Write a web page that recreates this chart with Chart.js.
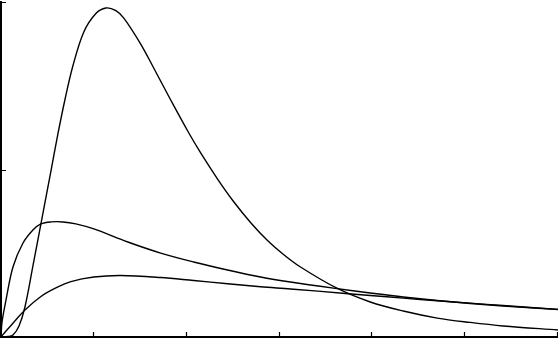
<!DOCTYPE html>
<html>
<head>
<meta charset="utf-8">
<title>Curves</title>
<script src="https://cdn.jsdelivr.net/npm/chart.js@4/dist/chart.umd.min.js"></script>
<style>
  html, body { margin: 0; padding: 0; background: #fff; }
  #wrap { width: 558px; height: 339px; }
</style>
</head>
<body>
<div id="wrap"><canvas id="curveChart" width="558" height="339"></canvas></div>
<script>
// ==========================
// Data
// ==========================
const xTicks = [0, 1, 2, 3, 4, 5, 6];
const yTicks = [0, 1, 2];

// tall curve
const tallX = [0, 0.075, 0.129, 0.194, 0.258, 0.344, 0.43, 0.538, 0.613, 0.688, 0.774, 0.892, 1.022, 1.129, 1.237, 1.323, 1.505, 1.645, 1.828, 2.011, 2.151, 2.333, 2.505, 2.688, 2.871, 3.043, 3.226, 3.613, 3.978, 4.333, 4.699, 5.054, 5.409, 6];
const tallY = [0, 0.003, 0.012, 0.066, 0.179, 0.424, 0.675, 0.991, 1.212, 1.415, 1.618, 1.821, 1.931, 1.964, 1.949, 1.904, 1.749, 1.606, 1.415, 1.23, 1.099, 0.943, 0.809, 0.684, 0.576, 0.493, 0.418, 0.293, 0.209, 0.155, 0.113, 0.087, 0.066, 0.042];

// middle curve
const midX = [0, 0.011, 0.054, 0.129, 0.237, 0.344, 0.43, 0.538, 0.667, 0.806, 1.0, 1.366, 1.72, 2.075, 2.441, 2.796, 3.118, 3.602, 3.978, 4.333, 4.699, 5.054, 5.409, 6];
const midY = [0, 0.09, 0.221, 0.418, 0.561, 0.639, 0.675, 0.687, 0.687, 0.675, 0.645, 0.567, 0.501, 0.448, 0.4, 0.358, 0.328, 0.29, 0.263, 0.239, 0.218, 0.2, 0.185, 0.164];

// low curve
const lowX = [0, 0.054, 0.108, 0.258, 0.43, 0.591, 0.753, 1.0, 1.29, 1.72, 2.075, 2.441, 2.796, 3.118, 3.71, 3.978, 4.333, 4.699, 5.054, 5.409, 6];
const lowY = [0, 0.036, 0.069, 0.161, 0.242, 0.293, 0.331, 0.358, 0.367, 0.355, 0.337, 0.318, 0.3, 0.287, 0.26, 0.248, 0.232, 0.216, 0.202, 0.188, 0.165];

function toPoints(xs, ys) {
  return xs.map((x, i) => ({ x: x, y: ys[i] }));
}

function curve(xs, ys) {
  return {
    data: toPoints(xs, ys),
    borderColor: "#000",
    borderWidth: 1.4,
    pointRadius: 0,
    fill: false,
    tension: 0.35
  };
}

// ==========================
// Inward tick marks
// ==========================
const innerTicks = {
  id: "innerTicks",
  afterDraw(chart) {
    const ctx = chart.ctx;
    const area = chart.chartArea;
    const xs = chart.scales.x;
    const ys = chart.scales.y;
    const len = 5;
    ctx.save();
    ctx.strokeStyle = "#000";
    ctx.lineWidth = 1.2;
    ctx.beginPath();
    xTicks.forEach(v => {
      const px = Math.round(xs.getPixelForValue(v)) - 0.5;
      ctx.moveTo(px, area.bottom);
      ctx.lineTo(px, area.bottom - len);
    });
    yTicks.forEach(v => {
      const py = Math.round(ys.getPixelForValue(v)) + 0.5;
      ctx.moveTo(area.left, py);
      ctx.lineTo(area.left + len, py);
    });
    ctx.stroke();
    ctx.restore();
  }
};

// ==========================
// Chart
// ==========================
const ctx = document.getElementById("curveChart").getContext("2d");
new Chart(ctx, {
  type: "line",
  data: {
    datasets: [
      curve(tallX, tallY),
      curve(midX, midY),
      curve(lowX, lowY)
    ]
  },
  options: {
    responsive: false,
    animation: false,
    layout: { padding: { left: 1, top: 2, right: 0, bottom: 2 } },
    plugins: {
      legend: { display: false },
      tooltip: { enabled: false }
    },
    scales: {
      x: {
        type: "linear",
        min: 0,
        max: 6,
        ticks: { display: false, stepSize: 1 },
        grid: { drawOnChartArea: false, drawTicks: false },
        border: { display: true, color: "#000", width: 2 }
      },
      y: {
        type: "linear",
        min: 0,
        max: 2,
        ticks: { display: false, stepSize: 1 },
        grid: { drawOnChartArea: false, drawTicks: false },
        border: { display: true, color: "#000", width: 2 }
      }
    }
  },
  plugins: [innerTicks]
});
</script>
</body>
</html>
